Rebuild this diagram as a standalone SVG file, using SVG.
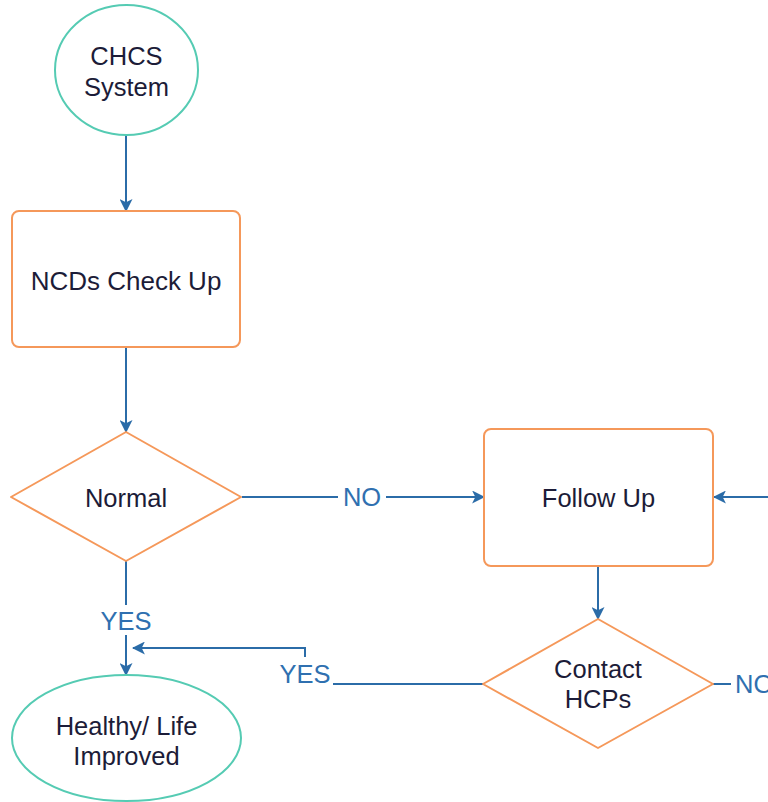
<svg xmlns="http://www.w3.org/2000/svg" width="768" height="802" viewBox="0 0 768 802">
  <defs>
    <marker id="arrow" viewBox="0 0 12 12" markerWidth="13" markerHeight="13" refX="11" refY="6" orient="auto" markerUnits="userSpaceOnUse">
      <path d="M0,0 L12,6 L0,12 L3,6 z" fill="#2b6ca8"/>
    </marker>
    <style>
      .term { fill: #ffffff; stroke: #55cbb3; stroke-width: 2; }
      .proc { fill: #ffffff; stroke: #f5985a; stroke-width: 2; stroke-linejoin: round; }
      .lbl { font-family: "Liberation Sans", Arial, sans-serif; font-size: 25.5px; fill: #1c1c38; text-anchor: middle; }
      .edge { fill: none; stroke: #2b6ca8; stroke-width: 2; }
      .elbl { font-family: "Liberation Sans", Arial, sans-serif; font-size: 25.5px; fill: #2f70b0; text-anchor: middle; }
    </style>
  </defs>
  <rect width="768" height="802" fill="#ffffff"/>

  <!-- connectors -->
  <g id="connectors">
    <path class="edge" d="M126,136 L126,211" marker-end="url(#arrow)"/>
    <path class="edge" d="M126,348 L126,432" marker-end="url(#arrow)"/>
    <path class="edge" d="M242,497 L484,497" marker-end="url(#arrow)"/>
    <path class="edge" d="M768,497 L714,497" marker-end="url(#arrow)"/>
    <path class="edge" d="M598,567 L598,619" marker-end="url(#arrow)"/>
    <path class="edge" d="M126,561 L126,675" marker-end="url(#arrow)"/>
    <path class="edge" d="M483,684 L305,684 L305,648 L133,648" marker-end="url(#arrow)"/>
    <path class="edge" d="M713,684 L768,684"/>
    <!-- edge labels on white backing -->
    <rect x="338" y="484" width="48" height="26" fill="#ffffff"/>
    <text class="elbl" x="362" y="506">NO</text>
    <rect x="96" y="605" width="60" height="30" fill="#ffffff"/>
    <text class="elbl" x="126" y="630">YES</text>
    <rect x="276" y="657" width="57" height="31" fill="#ffffff"/>
    <text class="elbl" x="305" y="683">YES</text>
    <rect x="731" y="670" width="37" height="26" fill="#ffffff"/>
    <text class="elbl" x="735" y="693" style="text-anchor:start">NO</text>
  </g>

  <g id="chcs-system">
    <ellipse class="term" cx="126.5" cy="70" rx="71.5" ry="65"/>
    <text class="lbl" x="126.5" y="65">CHCS</text>
    <text class="lbl" x="126.5" y="96">System</text>
  </g>

  <g id="ncds-check-up">
    <rect class="proc" x="12" y="211" width="228" height="136" rx="7"/>
    <text class="lbl" x="126" y="290" style="font-size:26px">NCDs Check Up</text>
  </g>

  <g id="normal">
    <path class="proc" d="M126,432 L241,497 L126,561 L11,497 Z"/>
    <text class="lbl" x="126" y="507">Normal</text>
  </g>

  <g id="follow-up">
    <rect class="proc" x="484" y="429" width="229" height="137" rx="7"/>
    <text class="lbl" x="598.5" y="507">Follow Up</text>
  </g>

  <g id="contact-hcps">
    <path class="proc" d="M598,619 L713,684 L598,748 L483,684 Z"/>
    <text class="lbl" x="598" y="678">Contact</text>
    <text class="lbl" x="598" y="708">HCPs</text>
  </g>

  <g id="healthy-life-improved">
    <ellipse class="term" cx="126.5" cy="738" rx="114.5" ry="63"/>
    <text class="lbl" x="126.5" y="735">Healthy/ Life</text>
    <text class="lbl" x="126.5" y="765">Improved</text>
  </g>
</svg>
